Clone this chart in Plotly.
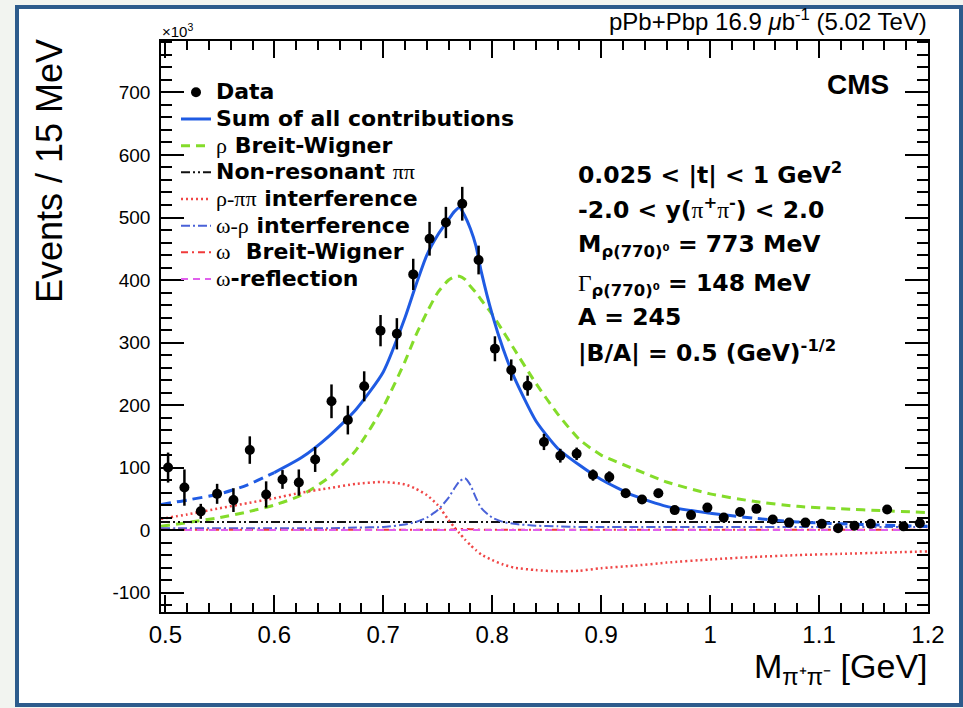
import plotly.graph_objects as go

# ---------------- data (values in units of 10^3 events / 15 MeV) ----------------
MASS = [0.5025, 0.5175, 0.5325, 0.5475, 0.5625, 0.5775, 0.5925, 0.6075, 0.6225, 0.6375,
        0.6525, 0.6675, 0.6825, 0.6975, 0.7125, 0.7275, 0.7425, 0.7575, 0.7725, 0.7875,
        0.8025, 0.8175, 0.8325, 0.8475, 0.8625, 0.8775, 0.8925, 0.9075, 0.9225, 0.9375,
        0.9525, 0.9675, 0.9825, 0.9975, 1.0125, 1.0275, 1.0425, 1.0575, 1.0725, 1.0875,
        1.1025, 1.1175, 1.1325, 1.1475, 1.1625, 1.1775, 1.1925]
EVENTS = [100, 68, 30, 58, 48, 128, 57, 81, 76, 113,
          206, 176, 230, 319, 314, 409, 466, 492, 522, 432,
          290, 256, 231, 141, 119, 122, 88, 85, 59, 49,
          59, 32, 24, 36, 20, 29, 34, 17, 12, 12,
          10, 3, 7, 10, 33, 6, 11]
EVENTS_ERR = [24, 29, 12, 16, 19, 22, 21, 15, 21, 20,
              27, 23, 24, 25, 25, 25, 27, 25, 27, 23,
              20, 17, 16, 13, 11, 10, 9, 9, 7, 7,
              7, 6, 6, 6, 5, 5, 5, 4, 4, 4,
              4, 4, 4, 4, 5, 4, 4]

# fit-model curves
X_CURVE = [0.496, 0.52, 0.55, 0.575, 0.60, 0.625, 0.65, 0.675, 0.70,
           0.72, 0.73, 0.74, 0.75, 0.76, 0.765, 0.77, 0.775, 0.78, 0.785, 0.79,
           0.80, 0.81, 0.82, 0.84, 0.86, 0.88, 0.90,
           0.93, 0.96, 1.00, 1.04, 1.08, 1.12, 1.16, 1.20]
SUM_ALL = [41, 48, 58, 72, 92, 116, 150, 193, 253,
           340, 392, 440, 472, 497, 509, 516, 502, 482, 455, 413,
           345, 290, 245, 175, 131, 104, 81,
           55, 38, 27, 19, 13, 10, 8, 6]
RHO_BW = [6, 12, 20, 29, 40, 56, 84, 128, 197,
          270, 312, 348, 380, 400, 405, 406, 401, 390, 380, 368,
          345, 318, 290, 235, 186, 145, 120,
          98, 77, 58, 46, 38, 34, 31, 28]
NON_RES = [13, 13, 13, 13, 13, 13, 13, 13, 13,
           13, 13, 13, 13, 13, 13, 13, 13, 13, 13, 13,
           13, 13, 13, 13, 13, 13, 13,
           13, 13, 13, 13, 13, 13, 13, 13]
RHO_PIPI_INT = [18, 25, 35, 43, 51, 60, 67, 74, 77,
                73, 66, 56, 40, 16, 5, -5, -15, -24, -32, -39,
                -48, -55, -60, -64, -66, -65, -61,
                -57, -52, -47, -43, -40, -38, -36, -34]
OMEGA_RHO_INT = [3, 3, 3, 3, 3, 3, 3, 4, 5,
                 9, 13, 20, 32, 52, 66, 78, 83, 72, 52, 35,
                 20, 13, 10, 7, 6, 5, 5,
                 5, 5, 5, 5, 5, 5, 5, 5]
OMEGA_BW = [0.5, 0.5, 0.5, 0.5, 0.5, 0.5, 0.5, 0.5, 0.5,
            0.5, 0.5, 0.5, 0.5, 0.7, 1, 1.5, 2, 1.5, 1, 0.7,
            0.5, 0.5, 0.5, 0.5, 0.5, 0.5, 0.5,
            0.5, 0.5, 0.5, 0.5, 0.5, 0.5, 0.5, 0.5]
OMEGA_REFL = [0, 0, 0, 0, 0, 0, 0, 0, 0,
              0, 0, 0, 0, 0, 0, 0, 0, 0, 0, 0,
              0, 0, 0, 0, 0, 0, 0,
              0, 0, 0, 0, 0, 0, 0, 0]
FIT_RANGE = (0.60, 1.00)

X_TICKS = [0.5, 0.6, 0.7, 0.8, 0.9, 1.0, 1.1, 1.2]
X_TICK_LABELS = ["0.5", "0.6", "0.7", "0.8", "0.9", "1", "1.1", "1.2"]
Y_TICKS = [-100, 0, 100, 200, 300, 400, 500, 600, 700]
Y_TICK_LABELS = ["-100", "0", "100", "200", "300", "400", "500", "600", "700"]

# ---------------- layout geometry ----------------
W, H = 963, 708
L, R, T, B = 161, 35, 41, 96
PW, PH = W - L - R, H - T - B


def pxx(px):
    return (px - L) / PW


def pxy(py):
    return (T + PH - py) / PH


SANS = "Liberation Sans, Arial, Helvetica, sans-serif"
BOLD = "DejaVu Sans, Liberation Sans, sans-serif"
SERIF = "font-family:Liberation Serif, Times New Roman, serif;font-weight:normal"


def greek(s):
    return f'<span style="{SERIF}">{s}</span>'


def leg(s):
    # legend rows: line pitch set by legend font size, glyphs a bit larger
    return f'<span style="font-size:22px">{s}</span>'


fig = go.Figure()

spline = dict(shape="spline", smoothing=0.6)

# sum of all contributions: solid in fit range, dashed outside
lo, hi = FIT_RANGE
in_x = [x for x in X_CURVE if lo <= x <= hi]
in_y = [y for x, y in zip(X_CURVE, SUM_ALL) if lo <= x <= hi]
left_x = [x for x in X_CURVE if x <= lo]
left_y = [y for x, y in zip(X_CURVE, SUM_ALL) if x <= lo]
right_x = [x for x in X_CURVE if x >= hi]
right_y = [y for x, y in zip(X_CURVE, SUM_ALL) if x >= hi]

BLUE = "#1f5be3"
fig.add_trace(go.Scatter(x=X_CURVE, y=RHO_BW, mode="lines",
                         name=leg(greek("ρ") + " Breit-Wigner"),
                         line=dict(color="#84dc2a", width=3, dash="9px,6px", **spline),
                         legendrank=3))
fig.add_trace(go.Scatter(x=X_CURVE, y=NON_RES, mode="lines",
                         name=leg("Non-resonant " + greek("ππ")),
                         line=dict(color="#111111", width=2, dash="9px,3px,2px,3px,2px,3px"),
                         legendrank=4))
fig.add_trace(go.Scatter(x=X_CURVE, y=RHO_PIPI_INT, mode="lines",
                         name=leg(greek("ρ-ππ") + " interference"),
                         line=dict(color="#f04646", width=2.5, dash="2px,3px", **spline),
                         legendrank=5))
fig.add_trace(go.Scatter(x=X_CURVE, y=OMEGA_RHO_INT, mode="lines",
                         name=leg(greek("ω-ρ") + " interference"),
                         line=dict(color="#4a62d8", width=2, dash="9px,3px,2px,3px", **spline),
                         legendrank=6))
fig.add_trace(go.Scatter(x=X_CURVE, y=OMEGA_BW, mode="lines",
                         name=leg(greek("ω") + "  Breit-Wigner"),
                         line=dict(color="#f03a3a", width=2, dash="7px,4px,2px,4px", **spline),
                         legendrank=7))
fig.add_trace(go.Scatter(x=X_CURVE, y=OMEGA_REFL, mode="lines",
                         name=leg(greek("ω") + "-reflection"),
                         line=dict(color="#e060ec", width=2, dash="7px,5px"),
                         legendrank=8))
fig.add_trace(go.Scatter(x=left_x, y=left_y, mode="lines", showlegend=False,
                         line=dict(color=BLUE, width=3, dash="10px,6px", **spline)))
fig.add_trace(go.Scatter(x=right_x, y=right_y, mode="lines", showlegend=False,
                         line=dict(color=BLUE, width=3, dash="10px,6px", **spline)))
fig.add_trace(go.Scatter(x=in_x, y=in_y, mode="lines", name=leg("Sum of all contributions"),
                         line=dict(color=BLUE, width=3, **spline), legendrank=2))
fig.add_trace(go.Scatter(x=MASS, y=EVENTS, mode="markers", name=leg("Data"),
                         marker=dict(color="black", size=10),
                         error_y=dict(type="data", array=EVENTS_ERR, color="black",
                                      thickness=2.5, width=0),
                         legendrank=1))

axis_common = dict(showgrid=False, zeroline=False, showline=True, linecolor="black",
                   linewidth=1.5, mirror="allticks", ticks="inside", tickcolor="black",
                   tickwidth=1.5, tickmode="array")

fig.update_xaxes(range=[0.496, 1.2], tickvals=X_TICKS, ticktext=X_TICK_LABELS, ticklen=17,
                 tickfont=dict(family=SANS, size=24, color="black"),
                 minor=dict(dtick=0.02, tick0=0.5, ticklen=9, ticks="inside",
                            tickcolor="black", tickwidth=1.5),
                 **axis_common)
fig.update_yaxes(range=[-131, 782.3], tickvals=Y_TICKS, ticktext=Y_TICK_LABELS, ticklen=23,
                 tickfont=dict(family=SANS, size=19, color="black"),
                 ticklabelstandoff=5,
                 minor=dict(dtick=20, tick0=0, ticklen=11, ticks="inside",
                            tickcolor="black", tickwidth=1.5),
                 **axis_common)

ann = []


def add_text(text, px, py, size, xanchor="left", family=SANS, weight="normal", angle=0):
    ann.append(dict(text=text, x=pxx(px), y=pxy(py), xref="paper", yref="paper",
                    xanchor=xanchor, yanchor="middle", showarrow=False, textangle=angle,
                    font=dict(family=family, size=size, color="black", weight=weight)))


add_text("pPb+Pbp 16.9 <i>μ</i>b<sup>-1</sup> (5.02 TeV)", 929, 20, 24, xanchor="right")
add_text("×10<sup>3</sup>", 160, 31, 15)
add_text("CMS", 891, 85, 28, xanchor="right", weight="bold")
add_text("Events / 15 MeV", 50, 171, 36, xanchor="center", angle=-90)
add_text("M<sub>π⁺π⁻</sub> [GeV]", 930, 668, 34, xanchor="right")

block = [
    ("0.025 &lt; |t| &lt; 1 GeV<sup>2</sup>", 173),
    ("-2.0 &lt; y(" + greek("π") + "<sup>+</sup>" + greek("π") + "<sup>-</sup>) &lt; 2.0", 209),
    ("M<sub>ρ(770)⁰</sub> = 773 MeV", 246),
    (greek("Γ") + "<sub>ρ(770)⁰</sub> = 148 MeV", 284),
    ("A = 245", 317),
    ("|B/A| = 0.5 (GeV)<sup>-1/2</sup>", 351),
]
for txt, yc in block:
    add_text(txt, 576, yc, 23.5, family=BOLD, weight="bold")

fig.update_layout(
    width=W, height=H,
    margin=dict(l=L, r=R, t=T, b=B),
    paper_bgcolor="#f2f4f0",
    plot_bgcolor="white",
    font=dict(family=SANS, color="black"),
    showlegend=True,
    legend=dict(x=pxx(176), y=pxy(74), xanchor="left", yanchor="top",
                bgcolor="rgba(0,0,0,0)", borderwidth=0, itemwidth=30,
                font=dict(family=BOLD, size=18.2, color="black", weight="bold"),
                tracegroupgap=0),
    annotations=ann,
    shapes=[dict(type="rect", xref="paper", yref="paper",
                 x0=pxx(17), x1=pxx(961), y0=pxy(705), y1=pxy(7),
                 line=dict(color="#2d5b8c", width=4), fillcolor="white", layer="below")],
)

fig.write_html("out.html")
